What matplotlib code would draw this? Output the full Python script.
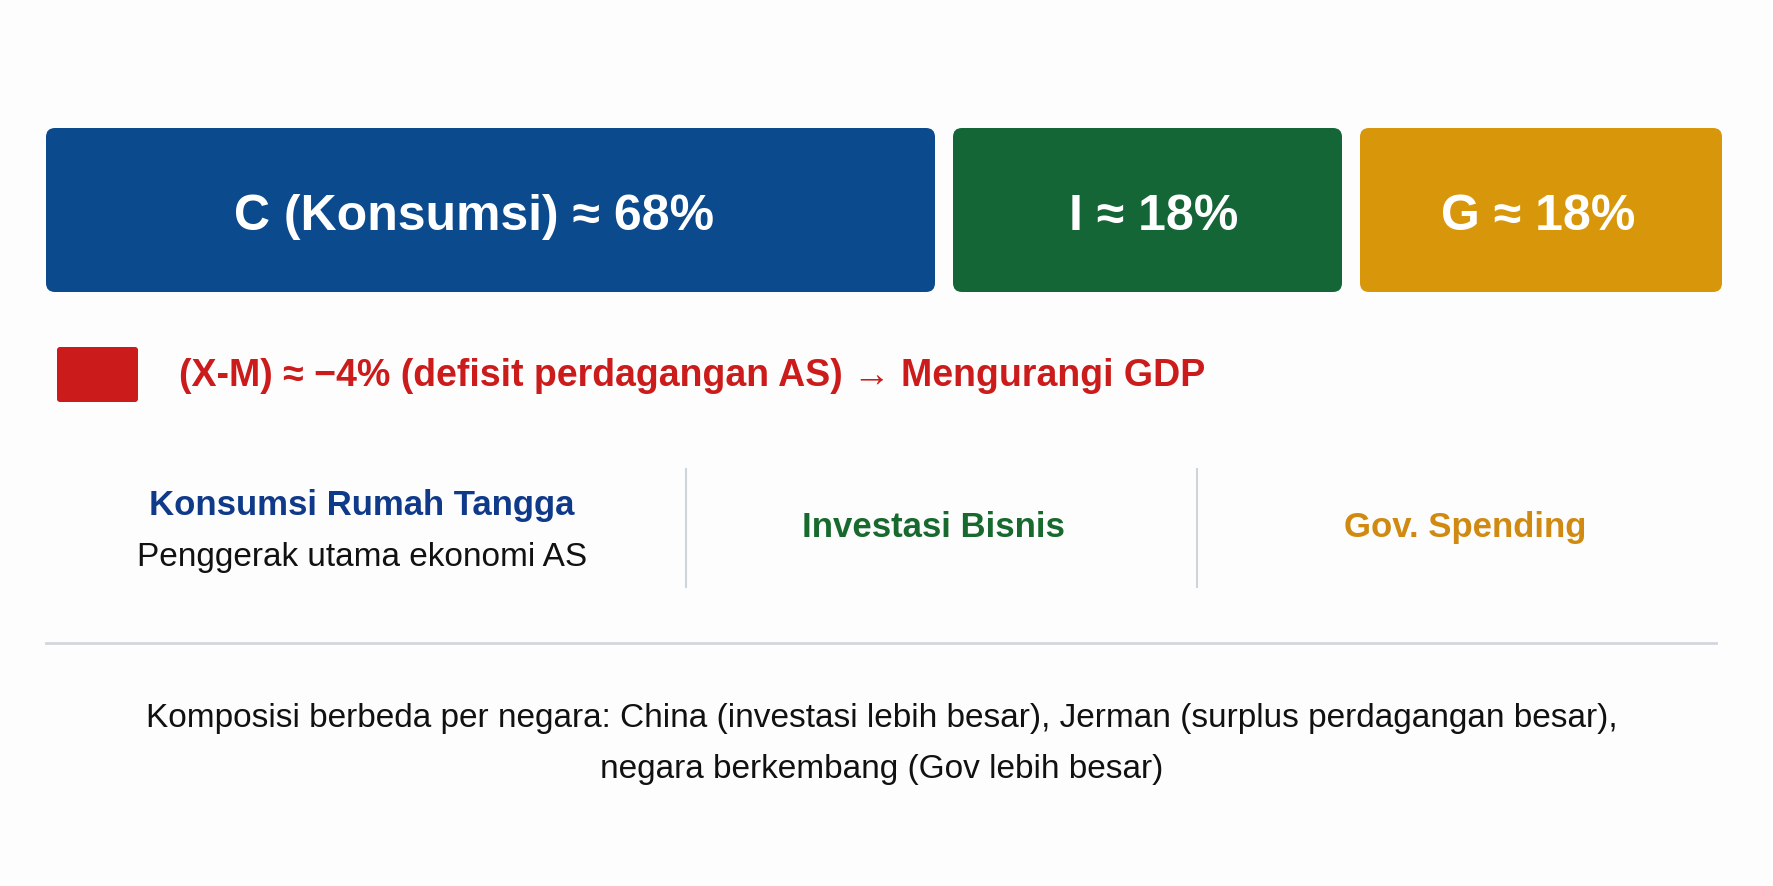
import matplotlib
matplotlib.use("Agg")
import matplotlib.pyplot as plt
from matplotlib.patches import FancyBboxPatch

plt.rcParams['font.family'] = ['Liberation Sans', 'DejaVu Sans']

# data
components = ['C (Konsumsi)', 'I', 'G']
shares = [68, 18, 18]
net_export = -4
net_note = 'defisit perdagangan AS'
net_effect = 'Mengurangi GDP'
desc_titles = ['Konsumsi Rumah Tangga', 'Investasi Bisnis', 'Gov. Spending']
desc_subs = ['Penggerak utama ekonomi AS', '', '']
footnote = ['Komposisi berbeda per negara: China (investasi lebih besar), Jerman (surplus perdagangan besar),',
            'negara berkembang (Gov lebih besar)']

# styles / layout (pixels)
card_colors = ['#0b4a8c', '#146636', '#d8960a']
title_colors = ['#0f3a8a', '#17692e', '#d08a12']
red = '#cc1b1b'
card_x = [46, 953, 1360]
card_w = [889, 389, 362]
label_dx = [-16, 6, -3]
card_top, card_h = 129, 164

W, H = 1774, 887
fig = plt.figure(figsize=(W / 100, H / 100), dpi=100)
fig.patch.set_facecolor('#fdfdfe')
ax = fig.add_axes([0, 0, 1, 1])
ax.set_xlim(0, W)
ax.set_ylim(H, 0)
ax.axis('off')

for name, val, x, w, c, dx in zip(components, shares, card_x, card_w, card_colors, label_dx):
    ax.add_patch(FancyBboxPatch((x, card_top), w, card_h,
                                boxstyle="round,pad=0,rounding_size=9",
                                fc=c, ec='none'))
    ax.text(x + w / 2 + dx, card_top + card_h / 2 + 6, f"{name} \u2248 {val}%",
            color='white', fontsize=36, fontweight='bold',
            ha='center', va='center')

# net exports row
ax.add_patch(FancyBboxPatch((57, 348), 81, 55, boxstyle="round,pad=0,rounding_size=3",
                            fc=red, ec='none'))
sign = '\u2212' if net_export < 0 else '+'
ax.text(179, 376, f"(X-M) \u2248 {sign}{abs(net_export)}% ({net_note}) \u2192 {net_effect}",
        color=red, fontsize=27, fontweight='bold', ha='left', va='center')

# description columns
col_centers = [362, 933, 1465]
for xd in [686, 1197]:
    ax.plot([xd, xd], [470, 588], color='#cfd3da', lw=1.5)
for cx, t, s, c in zip(col_centers, desc_titles, desc_subs, title_colors):
    if s:
        ax.text(cx, 506, t, color=c, fontsize=25, fontweight='bold', ha='center', va='center')
        ax.text(cx, 558, s, color='#111111', fontsize=24, ha='center', va='center')
    else:
        ax.text(cx, 528, t, color=c, fontsize=25, fontweight='bold', ha='center', va='center')

ax.plot([46, 1716], [644, 644], color='#d3d6dc', lw=2)

ax.text(882, 719, footnote[0], color='#111111', fontsize=24, ha='center', va='center')
ax.text(882, 770, footnote[1], color='#111111', fontsize=24, ha='center', va='center')

fig.savefig('out.png', dpi=100, facecolor=fig.get_facecolor())
